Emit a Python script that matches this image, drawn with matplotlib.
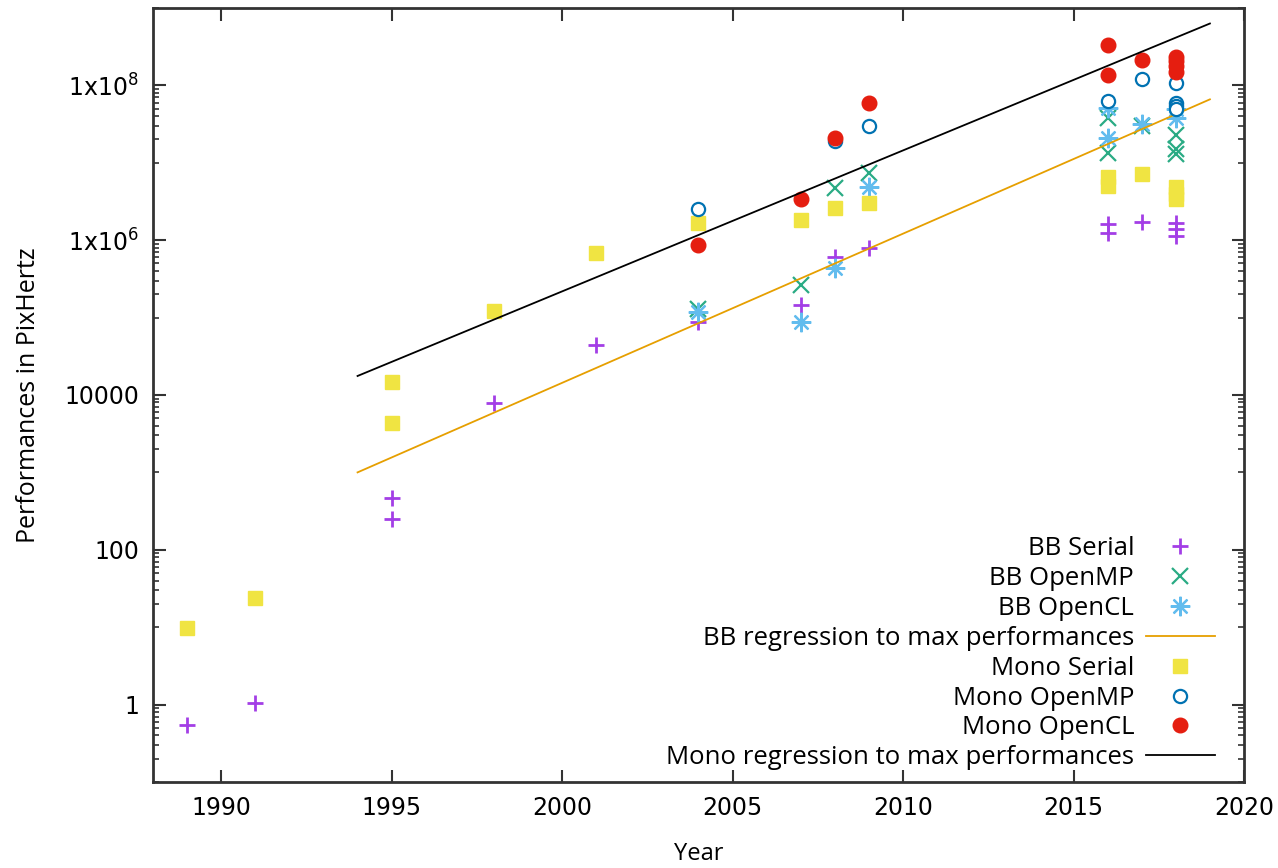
import matplotlib
matplotlib.use('Agg')
import matplotlib.pyplot as plt
import matplotlib.ticker as mticker

# Values (PixHertz, log scale)
bb_serial_years = [1989, 1991, 1995, 1995, 1998, 2001, 2004, 2007, 2008, 2009,
                   2016, 2016, 2017, 2018, 2018, 2018]
bb_serial_perf = [0.55, 1.06, 470, 250, 7900, 44000, 87000, 145000, 600000, 790000,
                  1.62e6, 1.24e6, 1.7e6, 1.66e6, 1.38e6, 1.13e6]

bb_openmp_years = [2004, 2007, 2008, 2009, 2016, 2016, 2017, 2018, 2018, 2018]
bb_openmp_perf = [1.3e5, 2.6e5, 4.7e6, 7.3e6, 3.8e7, 1.35e7, 3.0e7, 2.3e7, 1.5e7, 1.3e7]

bb_opencl_years = [2004, 2007, 2008, 2009, 2016, 2016, 2017, 2018, 2018]
bb_opencl_perf = [1.18e5, 8.8e4, 4.4e5, 4.8e6, 5.1e7, 2.1e7, 3.2e7, 5.0e7, 3.8e7]

mono_serial_years = [1989, 1991, 1995, 1995, 1998, 2001, 2004, 2007, 2008, 2009,
                     2016, 2016, 2017, 2018, 2018, 2018]
mono_serial_perf = [9.9, 24, 14900, 4300, 1.2e5, 6.8e5, 1.67e6, 1.85e6, 2.6e6, 3.0e6,
                    6.6e6, 5.0e6, 7.1e6, 4.8e6, 3.9e6, 3.4e6]

mono_openmp_years = [2004, 2008, 2009, 2016, 2017, 2018, 2018, 2018, 2018]
mono_openmp_perf = [2.5e6, 1.9e7, 3.0e7, 6.2e7, 1.2e8, 1.07e8, 5.9e7, 5.4e7, 4.9e7]

mono_opencl_years = [2004, 2007, 2008, 2009, 2016, 2016, 2017, 2018, 2018, 2018, 2018]
mono_opencl_perf = [8.6e5, 3.4e6, 2.1e7, 5.9e7, 3.35e8, 1.38e8, 2.14e8,
                    2.34e8, 2.04e8, 1.76e8, 1.51e8]

# Regression lines to max performances (end points)
fit_years = [1994, 2019]
bb_fit_perf = [1.0e3, 6.6e7]
mono_fit_perf = [1.76e4, 6.3e8]

y_major = [1, 100, 1e4, 1e6, 1e8]
y_major_labels = ['1', '100', '10000', r'1x10$^{6}$', r'1x10$^{8}$']
x_major = [1990, 1995, 2000, 2005, 2010, 2015, 2020]

PURPLE = '#a33ee6'
GREEN = '#2aab84'
SKY = '#62bcee'
ORANGE = '#e69f00'
YELLOW = '#f0e442'
BLUE = '#0072b2'
RED = '#e51e10'

plt.rcParams['mathtext.fontset'] = 'dejavusans'
plt.rcParams['font.family'] = ['DejaVu Sans']

fig = plt.figure(figsize=(12.78, 8.68), dpi=100)
ax = fig.add_axes([0.1197, 0.0991, 0.8537, 0.8917])

ax.set_yscale('log')
ax.set_xlim(1988, 2020)
ax.set_ylim(0.1, 1e9)

ax.plot(bb_serial_years, bb_serial_perf, ls='none', marker='+', ms=11, mew=2,
        color=PURPLE, label='BB Serial')
ax.plot(bb_openmp_years, bb_openmp_perf, ls='none', marker='x', ms=11, mew=1.6,
        color=GREEN, label='BB OpenMP')
ax.plot(bb_opencl_years, bb_opencl_perf, ls='none', marker=(8, 2, 0), ms=14, mew=1.6,
        color=SKY, label='BB OpenCL')
ax.plot(fit_years, bb_fit_perf, color=ORANGE, lw=1.3,
        label='BB regression to max performances')
ax.plot(mono_serial_years, mono_serial_perf, ls='none', marker='s', ms=10,
        color=YELLOW, mec=YELLOW, label='Mono Serial')
ax.plot(mono_openmp_years, mono_openmp_perf, ls='none', marker='o', ms=9.5, mew=1.6,
        mfc='white', mec=BLUE, label='Mono OpenMP')
ax.plot(mono_opencl_years, mono_opencl_perf, ls='none', marker='o', ms=10.5,
        color=RED, label='Mono OpenCL')
ax.plot(fit_years, mono_fit_perf, color='black', lw=1.3,
        label='Mono regression to max performances')

# gnuplot style ticks: inward, mirrored
ax.yaxis.set_major_locator(mticker.FixedLocator(y_major))
ax.yaxis.set_major_formatter(mticker.FixedFormatter(y_major_labels))
minors = []
for m in [0.01] + y_major:
    for k in range(1, 10):
        v = m * 10 * k
        if 0.1 <= v <= 1e9 and v not in y_major:
            minors.append(v)
ax.yaxis.set_minor_locator(mticker.FixedLocator(minors))
ax.yaxis.set_minor_formatter(mticker.NullFormatter())
ax.xaxis.set_major_locator(mticker.FixedLocator(x_major))
ax.xaxis.set_minor_locator(mticker.NullLocator())

ax.tick_params(which='both', direction='in', top=True, right=True, color='#333333')
ax.tick_params(which='major', length=9, width=1.5, labelsize=17, pad=10)
ax.tick_params(which='minor', length=4.5, width=1.2)
for s in ax.spines.values():
    s.set_linewidth(2)
    s.set_color('#333333')

ax.set_xlabel('Year', fontsize=17, family=['Open Sans', 'DejaVu Sans'])
ax.xaxis.set_label_coords(0.5, -0.078)
ax.set_ylabel('Performances in PixHertz', fontsize=18,
              family=['Open Sans', 'DejaVu Sans'])
ax.yaxis.set_label_coords(-0.114, 0.5)
ax.yaxis.label.set_va('center')

leg = ax.legend(loc='lower right', bbox_to_anchor=(0.9735, 0.015), frameon=False,
                markerfirst=False, numpoints=1, handlelength=2.7, handletextpad=0.45,
                labelspacing=0.19, borderpad=0, borderaxespad=0,
                prop={'family': ['Open Sans', 'DejaVu Sans'], 'size': 18.5})

fig.savefig('out.png', dpi=100, facecolor='white')
